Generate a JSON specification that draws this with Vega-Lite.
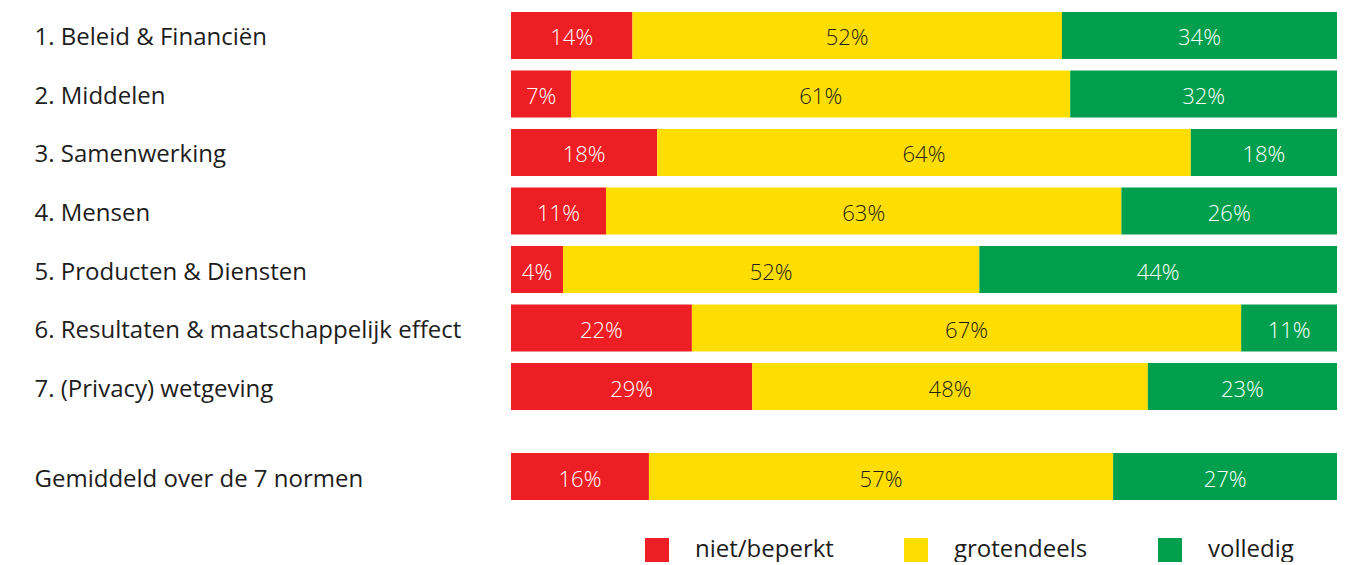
{
  "$schema": "https://vega.github.io/schema/vega-lite/v6.json",
  "padding": {"left": 34, "top": 12, "right": 10, "bottom": 0},
  "background": "white",
  "config": {
    "view": {"stroke": null},
    "font": "Open Sans",
    "axis": {"labelFont": "Open Sans"},
    "legend": {"labelFont": "Open Sans"}
  },
  "datasets": {
    "norms": [
      {"norm": "1. Beleid & Financiën", "status": "niet/beperkt", "order": 1, "value": 14.7, "label": "14%"},
      {"norm": "1. Beleid & Financiën", "status": "grotendeels", "order": 2, "value": 52.0, "label": "52%"},
      {"norm": "1. Beleid & Financiën", "status": "volledig", "order": 3, "value": 33.3, "label": "34%"},
      {"norm": "2. Middelen", "status": "niet/beperkt", "order": 1, "value": 7.3, "label": "7%"},
      {"norm": "2. Middelen", "status": "grotendeels", "order": 2, "value": 60.4, "label": "61%"},
      {"norm": "2. Middelen", "status": "volledig", "order": 3, "value": 32.3, "label": "32%"},
      {"norm": "3. Samenwerking", "status": "niet/beperkt", "order": 1, "value": 17.7, "label": "18%"},
      {"norm": "3. Samenwerking", "status": "grotendeels", "order": 2, "value": 64.6, "label": "64%"},
      {"norm": "3. Samenwerking", "status": "volledig", "order": 3, "value": 17.7, "label": "18%"},
      {"norm": "4. Mensen", "status": "niet/beperkt", "order": 1, "value": 11.5, "label": "11%"},
      {"norm": "4. Mensen", "status": "grotendeels", "order": 2, "value": 62.4, "label": "63%"},
      {"norm": "4. Mensen", "status": "volledig", "order": 3, "value": 26.1, "label": "26%"},
      {"norm": "5. Producten & Diensten", "status": "niet/beperkt", "order": 1, "value": 6.3, "label": "4%"},
      {"norm": "5. Producten & Diensten", "status": "grotendeels", "order": 2, "value": 50.4, "label": "52%"},
      {"norm": "5. Producten & Diensten", "status": "volledig", "order": 3, "value": 43.3, "label": "44%"},
      {"norm": "6. Resultaten & maatschappelijk effect", "status": "niet/beperkt", "order": 1, "value": 21.9, "label": "22%"},
      {"norm": "6. Resultaten & maatschappelijk effect", "status": "grotendeels", "order": 2, "value": 66.5, "label": "67%"},
      {"norm": "6. Resultaten & maatschappelijk effect", "status": "volledig", "order": 3, "value": 11.6, "label": "11%"},
      {"norm": "7. (Privacy) wetgeving", "status": "niet/beperkt", "order": 1, "value": 29.2, "label": "29%"},
      {"norm": "7. (Privacy) wetgeving", "status": "grotendeels", "order": 2, "value": 47.9, "label": "48%"},
      {"norm": "7. (Privacy) wetgeving", "status": "volledig", "order": 3, "value": 22.9, "label": "23%"}
    ],
    "avg": [
      {"norm": "Gemiddeld over de 7 normen", "status": "niet/beperkt", "order": 1, "value": 16.7, "label": "16%"},
      {"norm": "Gemiddeld over de 7 normen", "status": "grotendeels", "order": 2, "value": 56.2, "label": "57%"},
      {"norm": "Gemiddeld over de 7 normen", "status": "volledig", "order": 3, "value": 27.1, "label": "27%"}
    ]
  },
  "spacing": 43,
  "vconcat": [
    {
      "data": {"name": "norms"},
      "width": 826,
      "height": 398,
      "transform": [
        {"stack": "value", "groupby": ["norm"], "sort": [{"field": "order", "order": "ascending"}], "as": ["x0", "x1"]}
      ],
      "encoding": {
        "y": {
          "field": "norm", "type": "nominal", "sort": null, "title": null,
          "scale": {"paddingInner": 0.197, "paddingOuter": 0},
          "axis": {"labelAlign": "left", "labelPadding": 477, "ticks": false, "tickSize": 0, "domain": false, "labelFontSize": 24, "labelColor": "#1d1d1b", "labelLimit": 0, "labelOffset": 3}
        }
      },
      "layer": [
        {
          "mark": {"type": "bar"},
          "encoding": {
            "x": {"field": "x0", "type": "quantitative", "scale": {"domain": [0, 100], "nice": false}, "axis": null},
            "x2": {"field": "x1"},
            "color": {
              "field": "status", "type": "nominal", "title": null,
              "scale": {"domain": ["niet/beperkt", "grotendeels", "volledig"], "range": ["#ED1F24", "#FEDD00", "#009F4D"]},
              "legend": {"orient": "none", "legendX": 134, "legendY": 526, "direction": "horizontal", "symbolType": "square", "symbolSize": 576, "symbolStrokeWidth": 0, "symbolOpacity": 1, "labelFontSize": 24, "labelColor": "#1d1d1b", "labelOffset": 26, "labelLimit": 0, "columnPadding": 70, "padding": 0}
            }
          }
        },
        {
          "transform": [
            {"fold": ["x0", "x1"], "as": ["edge", "pos"]},
            {"aggregate": [{"op": "mean", "field": "pos", "as": "mid"}], "groupby": ["norm", "status", "label"]}
          ],
          "mark": {"type": "text", "fontSize": 22, "fontWeight": 300, "dy": 3},
          "encoding": {
            "x": {"field": "mid", "type": "quantitative"},
            "text": {"field": "label"},
            "color": {"condition": {"test": "datum.status === 'grotendeels'", "value": "#1d1d1b"}, "value": "white"}
          }
        }
      ]
    },
    {
      "data": {"name": "avg"},
      "width": 826,
      "height": 47,
      "transform": [
        {"stack": "value", "groupby": ["norm"], "sort": [{"field": "order", "order": "ascending"}], "as": ["x0", "x1"]}
      ],
      "encoding": {
        "y": {
          "field": "norm", "type": "nominal", "sort": null, "title": null,
          "scale": {"paddingInner": 0, "paddingOuter": 0},
          "axis": {"labelAlign": "left", "labelPadding": 477, "ticks": false, "tickSize": 0, "domain": false, "labelFontSize": 24, "labelColor": "#1d1d1b", "labelLimit": 0, "labelOffset": 3}
        }
      },
      "layer": [
        {
          "mark": {"type": "bar"},
          "encoding": {
            "x": {"field": "x0", "type": "quantitative", "scale": {"domain": [0, 100], "nice": false}, "axis": null},
            "x2": {"field": "x1"},
            "color": {
              "field": "status", "type": "nominal", "title": null,
              "scale": {"domain": ["niet/beperkt", "grotendeels", "volledig"], "range": ["#ED1F24", "#FEDD00", "#009F4D"]},
              "legend": {"orient": "none", "legendX": 134, "legendY": 526, "direction": "horizontal", "symbolType": "square", "symbolSize": 576, "symbolStrokeWidth": 0, "symbolOpacity": 1, "labelFontSize": 24, "labelColor": "#1d1d1b", "labelOffset": 26, "labelLimit": 0, "columnPadding": 70, "padding": 0}
            }
          }
        },
        {
          "transform": [
            {"fold": ["x0", "x1"], "as": ["edge", "pos"]},
            {"aggregate": [{"op": "mean", "field": "pos", "as": "mid"}], "groupby": ["norm", "status", "label"]}
          ],
          "mark": {"type": "text", "fontSize": 22, "fontWeight": 300, "dy": 3},
          "encoding": {
            "x": {"field": "mid", "type": "quantitative"},
            "text": {"field": "label"},
            "color": {"condition": {"test": "datum.status === 'grotendeels'", "value": "#1d1d1b"}, "value": "white"}
          }
        }
      ]
    }
  ]
}
